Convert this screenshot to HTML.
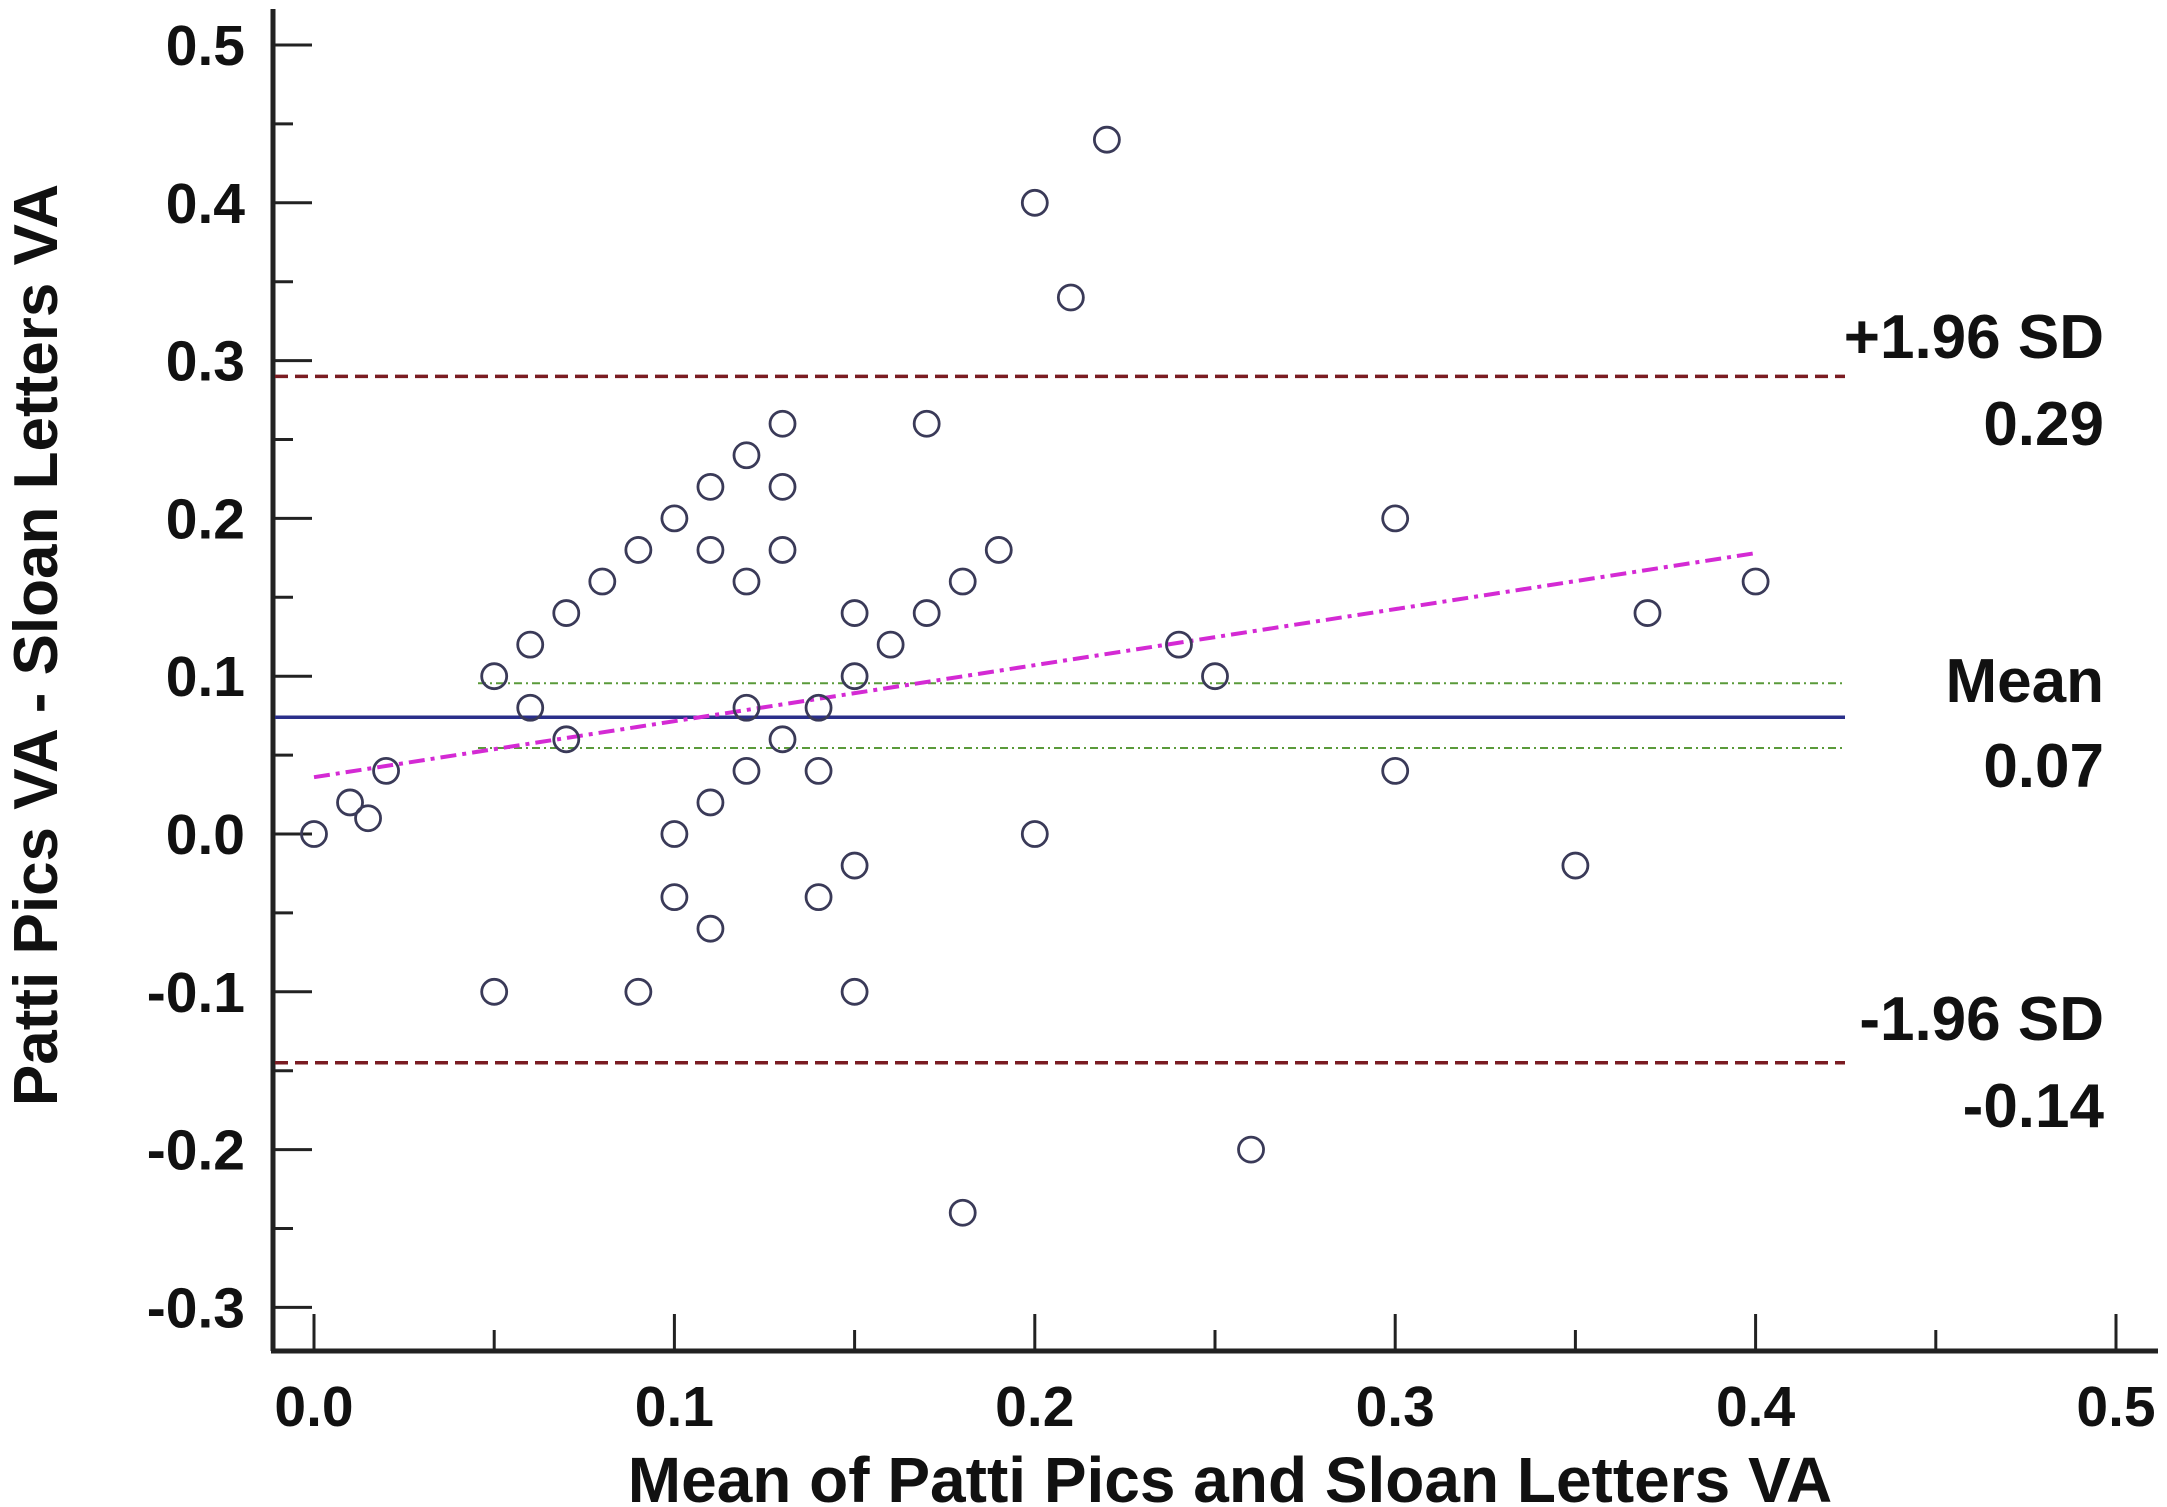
<!DOCTYPE html>
<html><head><meta charset="utf-8"><style>
html,body{margin:0;padding:0;background:#fff;}
svg{display:block;}
text{font-family:"Liberation Sans",Arial,sans-serif;font-weight:bold;fill:#111;}
</style></head><body>
<svg id="chart" width="2167" height="1507" viewBox="0 0 2167 1507" xmlns="http://www.w3.org/2000/svg">
<g id="grid"></g>
</svg>
<script>
const xs = [0,0.01,0.015,0.02,0.05,0.05,0.06,0.06,0.07,0.07,0.08,0.09,0.09,0.1,0.1,0.1,0.11,0.11,0.11,0.11,0.12,0.12,0.12,0.12,0.13,0.13,0.13,0.13,0.14,0.14,0.14,0.15,0.15,0.15,0.15,0.16,0.17,0.17,0.18,0.18,0.19,0.2,0.2,0.21,0.22,0.24,0.25,0.26,0.3,0.3,0.35,0.37,0.4];
const ys = [0,0.02,0.01,0.04,0.1,-0.1,0.12,0.08,0.14,0.06,0.16,0.18,-0.1,0.2,0,-0.04,0.22,0.18,0.02,-0.06,0.24,0.16,0.08,0.04,0.26,0.22,0.18,0.06,0.08,0.04,-0.04,0.14,0.1,-0.02,-0.1,0.12,0.26,0.14,0.16,-0.24,0.18,0.4,0,0.34,0.44,0.12,0.1,-0.2,0.2,0.04,-0.02,0.14,0.16];
const xTicks = [0,0.1,0.2,0.3,0.4,0.5];
const xTickLabels = ["0.0","0.1","0.2","0.3","0.4","0.5"];
const yTicks = [0.5,0.4,0.3,0.2,0.1,0,-0.1,-0.2,-0.3];
const yTickLabels = ["0.5","0.4","0.3","0.2","0.1","0.0","-0.1","-0.2","-0.3"];
const meanDiff = [0.074];
const meanCI = [0.0955,0.0545];
const limits = [0.29,-0.145];
const regression = [[0,0.036],[0.4,0.178]];

const NS="http://www.w3.org/2000/svg";
const svg=document.getElementById('chart');
const X=v=>314+v*3604;
const Y=v=>834-v*1578;
function mk(tag,attrs,parent){const e=document.createElementNS(NS,tag);for(const k in attrs)e.setAttribute(k,attrs[k]);(parent||svg).appendChild(e);return e;}

let a=mk('line',{x1:273,y1:9,x2:273,y2:1351,stroke:'#222','stroke-width':5});


a=mk('line',{x1:271,y1:1351,x2:2158,y2:1351,stroke:'#222','stroke-width':5});



yTicks.forEach((v,i)=>{
  const t=mk('line',{x1:273,y1:Y(v),x2:312,y2:Y(v),stroke:'#222','stroke-width':3});
  
  
  if(i<yTicks.length-1){const m=mk('line',{x1:273,y1:Y(v-0.05),x2:293,y2:Y(v-0.05),stroke:'#222','stroke-width':3});
    
    }
  const l=mk('text',{x:245,y:Y(v)+20,'text-anchor':'end','font-size':57});
  l.textContent=yTickLabels[i];
  
  
});
xTicks.forEach((v,i)=>{
  const t=mk('line',{x1:X(v),y1:1351,x2:X(v),y2:1314,stroke:'#222','stroke-width':3});
  
  
  if(i<xTicks.length-1){const m=mk('line',{x1:X(v+0.05),y1:1351,x2:X(v+0.05),y2:1330,stroke:'#222','stroke-width':3});
    
    }
  const l=mk('text',{x:X(v),y:1426,'text-anchor':'middle','font-size':57});
  l.textContent=xTickLabels[i];
  
  
});

limits.forEach(v=>{
  const l=mk('line',{x1:275,y1:Y(v),x2:1845,y2:Y(v),stroke:'#7a1c22','stroke-width':3.5,'stroke-dasharray':'13 7'});
  
  
});
meanCI.forEach(v=>{
  const l=mk('line',{x1:478,y1:Y(v),x2:1845,y2:Y(v),stroke:'#5a9a3a','stroke-width':2,'stroke-dasharray':'8 4 2 4'});
  
  
});
let ml=mk('line',{x1:275,y1:Y(meanDiff[0]),x2:1845,y2:Y(meanDiff[0]),stroke:'#2a2f8a','stroke-width':3.5});


let rl=mk('line',{x1:X(regression[0][0]),y1:Y(regression[0][1]),x2:X(regression[1][0]),y2:Y(regression[1][1]),stroke:'#d42ad4','stroke-width':4,'stroke-dasharray':'16 6 4 6'});



xs.forEach((x,i)=>{
  const c=mk('circle',{cx:X(x),cy:Y(ys[i]),r:12.5,fill:'none',stroke:'#3a3a58','stroke-width':2.8});
  
  
});

const labels=[["+1.96 SD",336,'upper-loa-label'],["0.29",423,'upper-loa-value'],["Mean",680,'mean-label'],["0.07",765,'mean-value'],["-1.96 SD",1018,'lower-loa-label'],["-0.14",1105,'lower-loa-value']];
labels.forEach(([t,y,n])=>{
  const l=mk('text',{x:2104,y:y+22,'text-anchor':'end','font-size':62});
  l.textContent=t;
  
  
});

let xt=mk('text',{x:1230,y:1502,'text-anchor':'middle','font-size':64});
xt.textContent="Mean of Patti Pics and Sloan Letters VA";


let yt=mk('text',{x:0,y:0,'text-anchor':'middle','font-size':62,transform:'translate(57,645) rotate(-90)'});
yt.textContent="Patti Pics VA - Sloan Letters VA";


</script>
</body></html>
